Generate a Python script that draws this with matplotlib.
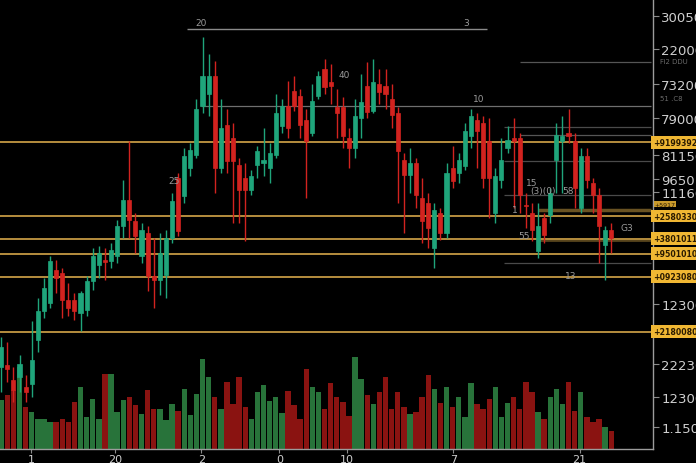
"""Dark candlestick chart with volume and price levels."""
import matplotlib
matplotlib.use("Agg")
import matplotlib.pyplot as plt
import numpy as np

# --- candles (arbitrary price units) ---
opens = [82, 84, 69, 72, 62, 65, 109, 139, 147, 180, 177, 150, 150, 137, 140, 169, 185, 190, 189, 194,
         224, 250, 229, 194, 217, 174, 170, 175, 212, 272, 254, 282, 295, 345, 357, 375, 282, 325, 312, 285,
         272, 260, 285, 287, 282, 295, 324, 345, 360, 355, 330, 317, 355, 382, 369, 344, 344, 312, 302, 332,
         365, 340, 367, 365, 352, 337, 290, 275, 287, 252, 247, 202, 237, 217, 282, 277, 284, 314, 330, 327,
         309, 237, 270, 302, 312, 312, 245, 237, 199, 232, 235, 290, 309, 317, 309, 242, 294, 267, 255, 205, 220]
closes = [102, 80, 59, 85, 57, 89, 139, 162, 189, 172, 150, 142, 139, 157, 169, 194, 197, 188, 200, 224,
          250, 230, 214, 220, 174, 170, 197, 212, 249, 219, 294, 300, 342, 375, 375, 282, 322, 289, 289, 260,
          260, 274, 299, 290, 297, 337, 345, 322, 345, 325, 309, 350, 375, 364, 365, 337, 314, 302, 334, 349,
          339, 369, 359, 357, 335, 299, 275, 287, 255, 229, 222, 240, 217, 277, 269, 290, 319, 334, 319, 272,
          272, 274, 290, 310, 309, 255, 244, 220, 224, 215, 257, 315, 314, 314, 262, 294, 270, 255, 224, 220, 212]
highs = [112, 107, 82, 94, 74, 129, 152, 172, 194, 190, 182, 167, 157, 159, 174, 202, 204, 202, 207, 230,
         270, 309, 237, 227, 224, 212, 217, 220, 257, 277, 302, 307, 352, 414, 397, 390, 352, 342, 327, 292,
         287, 280, 304, 322, 307, 357, 352, 370, 375, 362, 342, 367, 380, 392, 387, 362, 354, 322, 352, 377,
         389, 392, 382, 382, 367, 344, 297, 302, 292, 272, 257, 247, 242, 287, 304, 297, 327, 342, 337, 334,
         332, 282, 312, 324, 332, 317, 257, 247, 247, 237, 262, 327, 334, 342, 317, 302, 302, 272, 262, 224, 227]
lows = [57, 67, 47, 57, 47, 52, 97, 132, 142, 157, 132, 134, 130, 119, 134, 160, 172, 170, 182, 187,
        212, 212, 197, 187, 159, 142, 155, 152, 207, 214, 247, 274, 292, 337, 334, 257, 277, 277, 227, 227,
        209, 255, 272, 274, 267, 292, 317, 312, 340, 312, 252, 314, 352, 357, 347, 312, 302, 282, 292, 312,
        332, 337, 347, 342, 322, 247, 217, 257, 242, 207, 202, 182, 210, 212, 262, 267, 280, 302, 282, 262,
        232, 227, 262, 297, 242, 237, 222, 209, 192, 207, 227, 257, 257, 307, 242, 237, 262, 237, 187, 170, 197]
volumes = [49, 54, 59, 82, 42, 37, 30, 30, 27, 27, 30, 27, 47, 62, 32, 50, 30, 75, 75, 37,
           49, 52, 44, 35, 59, 40, 40, 29, 45, 38, 60, 34, 55, 90, 72, 52, 40, 67, 45, 72,
           42, 30, 57, 64, 48, 52, 36, 58, 44, 30, 80, 62, 57, 40, 66, 52, 47, 33, 92, 70,
           54, 45, 57, 72, 40, 57, 42, 35, 37, 52, 74, 60, 46, 62, 42, 52, 32, 66, 45, 40,
           50, 62, 32, 46, 52, 40, 67, 57, 37, 30, 52, 60, 45, 67, 38, 57, 32, 27, 30, 22, 18]

# --- axis labels ---
price_tick_pos = [435, 402, 367, 332, 295, 271, 258, 146, 85, 52, 22]
price_tick_labels = ["30050.0", "22000.0", "73200.0", "79000.0", "81150.0", "9650", "11160.0",
                     "12300.0", "22230.0", "12300.0", "1.1500.0"]
date_tick_pos = [4.9, 18.7, 32.8, 45.6, 56.7, 74.1, 94.8]
date_tick_labels = ["1", "20", "2", "0", "10", "7", "21"]

# --- horizontal price levels ---
level_prices = [308, 234, 211, 196, 173, 118]
level_labels = ["+9199392", "+2580330", "+3801011", "+9501010", "+0923080", "+2180080"]

BG = "black"
GREEN = "#1fa57b"
RED = "#d2231f"
VGREEN = "#2b7a3e"
VRED = "#931512"
GOLD = "#d9a94a"
GRID = "#8a8a8a"
TXT = "#cfcfcf"

fig = plt.figure(figsize=(6.96, 4.64), dpi=100, facecolor=BG)
ax = fig.add_axes([0, 14 / 464, 653 / 696, 450 / 464])
ax.set_facecolor(BG)
vax = ax.twinx()
ax.set_zorder(vax.get_zorder() + 1)
ax.patch.set_visible(False)
vax.set_facecolor(BG)

n = len(opens)
x = np.arange(n)
o = np.array(opens)
c = np.array(closes)
up = c >= o
cols = np.where(up, GREEN, RED)

# volume
vax.bar(x, volumes, width=0.88, color=np.where(up, VGREEN, VRED), alpha=0.95)
vax.set_ylim(0, 452)
vax.set_yticks([])
for s in vax.spines.values():
    s.set_visible(False)

# levels
for p, lab in zip(level_prices, level_labels):
    ax.axhline(p, color=GOLD, lw=1.3, alpha=0.9, zorder=1)
    ax.text(1.0, p, lab, transform=ax.get_yaxis_transform(), va="center", ha="left",
            fontsize=5.6, fontweight="bold", color="#2a1a00", clip_on=False,
            bbox=dict(boxstyle="square,pad=0.25", fc="#f0b733", ec="none"))
ax.text(1.002, 246, "+5917", transform=ax.get_yaxis_transform(), va="center", ha="left",
        fontsize=4.5, color="#2a1a00", clip_on=False,
        bbox=dict(boxstyle="square,pad=0.1", fc="#c99a2c", ec="none"))

# thin gray guide lines
ax.hlines(422, 30.5, 79.6, color=GRID, lw=1)
ax.hlines(345, 32.7, 106.5, color="#6f6f6f", lw=0.9)
ax.hlines([389, 315], 85, 106.5, color="#555555", lw=0.9)
ax.hlines([323, 289, 255, 187], 82.5, 106.5, color="#4a4a4a", lw=0.9)
ax.hlines(240, 88, 106.5, color="#b08a3a", lw=2.5, alpha=0.6)
ax.hlines(210, 88, 106.5, color="#b08a3a", lw=2.0, alpha=0.5)

# candles
ax.vlines(x, lows, highs, color=cols, lw=1.0, zorder=3)
ax.bar(x, np.maximum(np.abs(c - o), 1.5), bottom=np.minimum(o, c), width=0.68,
       color=cols, edgecolor=cols, lw=0.5, zorder=4)

# faint annotations
notes = [(32.8, 428, "20"), (76.3, 428, "3"), (56.3, 376, "40"), (78.3, 352, "10"),
         (28.3, 270, "25"), (86.9, 268, "15"), (88.8, 260, "(3)(0)"), (93, 260, "58"),
         (84.2, 241, "1"), (85.7, 214, "55"), (93.3, 174, "13"), (102.5, 222, "G3")]
for xi, yi, t in notes:
    ax.text(xi, yi, t, color="#9a9a9a", fontsize=6.5, ha="center", va="center", zorder=5)
ax.text(1.01, 390, "Fi2 DDU", transform=ax.get_yaxis_transform(), color="#6a6a6a", fontsize=5,
        va="center", clip_on=False)
ax.text(1.01, 353, "51 .C8", transform=ax.get_yaxis_transform(), color="#6a6a6a", fontsize=5,
        va="center", clip_on=False)

ax.set_xlim(-0.2, -0.2 + 653 / 6.1)
ax.set_ylim(0, 452)
ax.yaxis.tick_right()
ax.set_yticks(price_tick_pos)
ax.set_yticklabels(price_tick_labels)
ax.set_xticks(date_tick_pos)
ax.set_xticklabels(date_tick_labels)
ax.tick_params(axis="y", colors=GRID, labelcolor=TXT, labelsize=9.5, length=4, pad=2)
ax.tick_params(axis="x", colors=GRID, labelcolor=TXT, labelsize=8, length=3, pad=0.5)
for side in ["top", "left"]:
    ax.spines[side].set_visible(False)
for side in ["right", "bottom"]:
    ax.spines[side].set_color("#9c9c9c")
    ax.spines[side].set_linewidth(1.0)

fig.savefig("out.png", dpi=100, facecolor=BG)
